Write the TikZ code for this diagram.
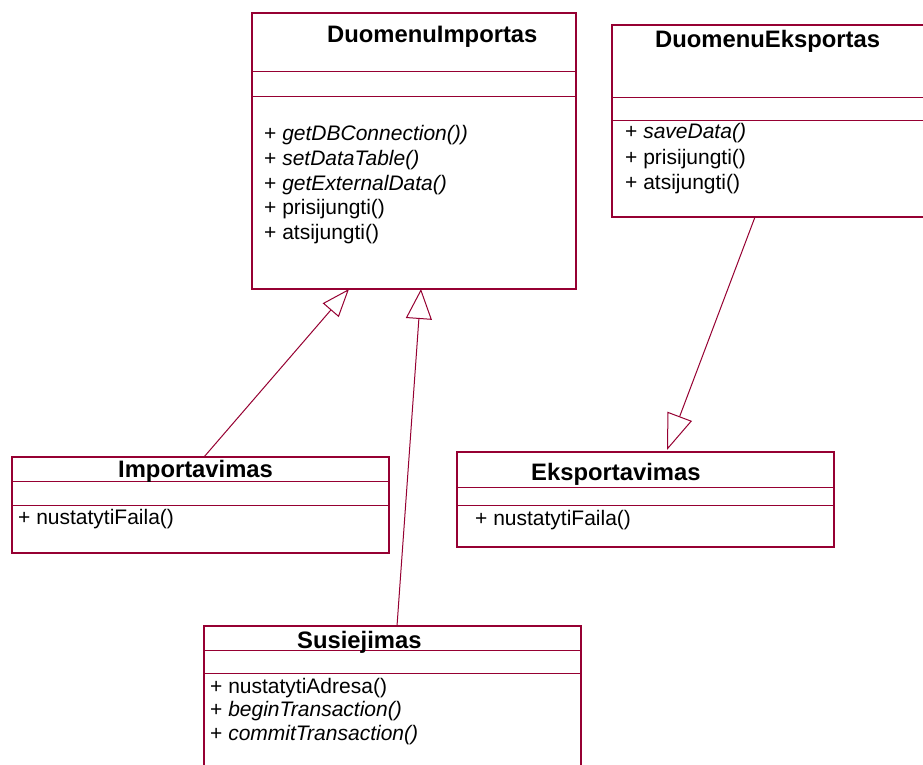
\documentclass[tikz,border=0pt]{standalone}
\usepackage{fontspec}
\setmainfont{Liberation Sans}
\usetikzlibrary{arrows.meta,calc}
\definecolor{umlline}{RGB}{150,0,50}
\begin{document}
\begin{tikzpicture}[x=1pt,y=-1pt,
  classbox/.style={draw=umlline, line width=1.3pt, fill=white, anchor=north west,
                   inner sep=0pt, outer sep=0pt},
  sepline/.style={draw=umlline, line width=1pt},
  ctitle/.style={anchor=base west, inner sep=0pt, font=\fontsize{23.8}{24}\selectfont\bfseries},
  cop/.style={anchor=base west, inner sep=0pt, font=\fontsize{21}{24}\selectfont},
  generalizes/.style={draw=umlline, line width=1pt},
  openhead/.style n args={2}{-{Triangle[open, length=#1, width=#2, line width=1pt]}}
]
\useasboundingbox (0,0) rectangle (923,765);
\fill[white] (0,0) rectangle (923,765);
\clip (0,0) rectangle (923,765);

% ---- DuomenuImportas
\node[classbox, minimum width=324pt, minimum height=276pt] (dimp) at (252,13) {};
\draw[sepline] (252,72) -- (576,72);
\draw[sepline] (252,97) -- (576,97);
\node[ctitle] (dimpT) at (327,43) {DuomenuImportas};
\node[cop] (dimp1) at (264,140) {+ \textit{getDBConnection())}};
\node[cop] (dimp2) at (264,165) {+ \textit{setDataTable()}};
\node[cop] (dimp3) at (264,190) {+ \textit{getExternalData()}};
\node[cop] (dimp4) at (264,214.5) {+ prisijungti()};
\node[cop] (dimp5) at (264,239) {+ atsijungti()};

% ---- DuomenuEksportas
\node[classbox, minimum width=330pt, minimum height=192pt] (dexp) at (612,25) {};
\draw[sepline] (612,97.5) -- (930,97.5);
\draw[sepline] (612,120.5) -- (930,120.5);
\node[ctitle] (dexpT) at (655,48) {DuomenuEksportas};
\node[cop] (dexp1) at (625,139) {+ \textit{saveData()}};
\node[cop] (dexp2) at (625,164) {+ prisijungti()};
\node[cop] (dexp3) at (625,189) {+ atsijungti()};

% ---- Importavimas
\node[classbox, minimum width=377pt, minimum height=96pt] (impv) at (12,457) {};
\draw[sepline] (12,481.5) -- (389,481.5);
\draw[sepline] (12,505) -- (389,505);
\node[ctitle] (impvT) at (118,477) {Importavimas};
\node[cop] (impv1) at (18,524.5) {+ nustatytiFaila()};

% ---- Eksportavimas
\node[classbox, minimum width=377pt, minimum height=95pt] (expv) at (457,452) {};
\draw[sepline] (457,487.5) -- (834,487.5);
\draw[sepline] (457,505) -- (834,505);
\node[ctitle] (expvT) at (531,480) {Eksportavimas};
\node[cop] (expv1) at (475,525) {+ nustatytiFaila()};

% ---- Susiejimas
\node[classbox, minimum width=377pt, minimum height=160pt] (susj) at (204,626) {};
\draw[sepline] (204,650) -- (581,650);
\draw[sepline] (204,673.5) -- (581,673.5);
\node[ctitle] (susjT) at (297,648.5) {Susiejimas};
\node[cop] (susj1) at (210,693.5) {+ nustatytiAdresa()};
\node[cop] (susj2) at (210,716.5) {+ \textit{beginTransaction()}};
\node[cop] (susj3) at (210,740) {+ \textit{commitTransaction()}};

% ---- generalisation connectors
\coordinate (impvUp) at ($(impv.north west)+(192,0)$);
\coordinate (dimpInA) at ($(dimp.south west)+(97,0)$);
\coordinate (susjUp) at ($(susj.north west)+(193,0)$);
\coordinate (dimpInB) at ($(dimp.south west)+(169,0)$);
\coordinate (dexpDown) at ($(dexp.south west)+(143,0)$);
\coordinate (expvIn) at ($(expv.north west)+(210,-2)$);

\draw[generalizes, openhead={28pt}{21pt}] (impvUp) -- (dimpInA);
\draw[generalizes, openhead={30pt}{26pt}] (susjUp) -- (dimpInB);
\draw[generalizes, openhead={36pt}{26pt}] (dexpDown) -- (expvIn);
\end{tikzpicture}
\end{document}
